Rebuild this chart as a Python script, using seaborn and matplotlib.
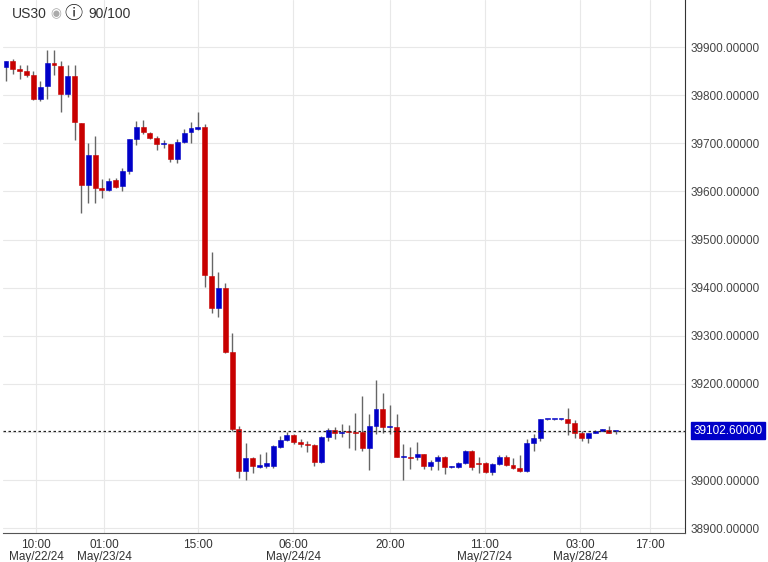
import matplotlib
matplotlib.use("Agg")
import matplotlib.pyplot as plt
import numpy as np
import pandas as pd
import seaborn as sns

# ── Data (hourly US30 candles) ───────────────────────────────────────────────
opens = [39859, 39872, 39854, 39850, 39843, 39793, 39819, 39866, 39861, 39802,
         39840, 39743, 39614, 39675, 39607, 39603, 39623, 39612, 39643, 39710,
         39734, 39722, 39711, 39698, 39698, 39667, 39703, 39723, 39730, 39733,
         39425, 39357, 39400, 39266, 39106, 39019, 39045, 39028, 39030, 39030,
         39069, 39084, 39093, 39079, 39076, 39072, 39038, 39090, 39105, 39098,
         39100, 39100, 39100, 39067, 39112, 39147, 39110, 39111, 39047, 39048,
         39047, 39055, 39029, 39040, 39047, 39027, 39028, 39036, 39060, 39035,
         39035, 39017, 39034, 39049, 39031, 39026, 39018, 39077, 39088, 39126,
         39126, 39126, 39126, 39118, 39097, 39088, 39097, 39103, 39104, 39102]
highs = [39872, 39875, 39863, 39863, 39850, 39829, 39894, 39894, 39872, 39863,
         39863, 39743, 39701, 39716, 39625, 39627, 39627, 39649, 39709, 39747,
         39749, 39724, 39716, 39708, 39698, 39710, 39729, 39744, 39766, 39740,
         39474, 39432, 39410, 39305, 39112, 39077, 39049, 39055, 39059, 39072,
         39091, 39100, 39096, 39086, 39081, 39075, 39092, 39108, 39110, 39116,
         39114, 39139, 39175, 39137, 39209, 39180, 39156, 39137, 39076, 39069,
         39079, 39055, 39042, 39053, 39050, 39030, 39037, 39062, 39063, 39049,
         39037, 39036, 39052, 39052, 39045, 39052, 39086, 39096, 39126, 39127,
         39127, 39127, 39149, 39124, 39103, 39097, 39104, 39107, 39113, 39103]
lows = [39830, 39845, 39833, 39837, 39790, 39788, 39793, 39842, 39765, 39797,
        39707, 39555, 39575, 39577, 39587, 39600, 39607, 39601, 39637, 39696,
        39720, 39709, 39687, 39690, 39662, 39660, 39700, 39700, 39727, 39402,
        39348, 39339, 39264, 39103, 39005, 39000, 39014, 39026, 39026, 39026,
        39066, 39082, 39074, 39069, 39058, 39030, 39035, 39081, 39086, 39090,
        39066, 39062, 39061, 39022, 39095, 39098, 39096, 39047, 39001, 39023,
        39042, 39024, 39022, 39020, 39013, 39026, 39026, 39034, 39022, 39015,
        39015, 39010, 39031, 39029, 39024, 39016, 39016, 39061, 39082, 39125,
        39125, 39125, 39093, 39087, 39082, 39077, 39097, 39101, 39097, 39095]
closes = [39872, 39854, 39851, 39843, 39793, 39817, 39866, 39862, 39802, 39840,
          39745, 39614, 39675, 39608, 39603, 39622, 39609, 39642, 39709, 39734,
          39723, 39712, 39698, 39699, 39667, 39703, 39722, 39731, 39733, 39426,
          39357, 39400, 39267, 39107, 39019, 39045, 39029, 39030, 39035, 39070,
          39084, 39093, 39079, 39076, 39072, 39038, 39090, 39105, 39098, 39100,
          39099, 39098, 39067, 39112, 39147, 39110, 39112, 39047, 39049, 39046,
          39055, 39029, 39038, 39048, 39027, 39028, 39035, 39060, 39027, 39033,
          39017, 39033, 39049, 39031, 39026, 39018, 39077, 39088, 39126, 39126,
          39126, 39126, 39118, 39097, 39088, 39097, 39103, 39104, 39098, 39102.6]

tick_pos = [4.4, 14.3, 28.0, 41.9, 56.1, 69.9, 83.8, 94.0]
tick_labels = ["10:00\nMay/22/24", "01:00\nMay/23/24", "15:00", "06:00\nMay/24/24",
               "20:00", "11:00\nMay/27/24", "03:00\nMay/28/24", "17:00"]
price_ticks = np.arange(38900, 40000, 100)
last_price = 39102.6

RED, BLUE, WICK = "#c80000", "#0000c8", "#666666"

df = pd.DataFrame({"open": opens, "high": highs, "low": lows, "close": closes})
df["up"] = df["close"] >= df["open"]

sns.set_style("white")
plt.rcParams["font.family"] = ["Liberation Sans", "DejaVu Sans"]

fig = plt.figure(figsize=(7.68, 5.62), dpi=100)
ax = fig.add_axes([3 / 768, 1 - 533 / 562, 682 / 768, 533 / 562])

# wicks
ax.vlines(df.index, df["low"], df["high"], color=WICK, linewidth=1, zorder=2)
# bodies (min height so doji still show)
bottoms = df[["open", "close"]].min(axis=1)
heights = (df["close"] - df["open"]).abs().clip(lower=2.5)
colors = [BLUE if u else RED for u in df["up"]]
ax.bar(df.index, heights, bottom=bottoms, width=0.72, color=colors,
       edgecolor=colors, linewidth=0.4, zorder=3)

ax.axhline(last_price, color="#222222", linestyle=(0, (2, 2)), linewidth=0.9, zorder=4)

ax.set_xlim(-0.44, 99.1)
ax.set_ylim(38890, 39998)
ax.set_xticks(tick_pos)
ax.set_xticklabels(tick_labels, fontsize=8.5, color="#333333", linespacing=1.0)
ax.yaxis.tick_right()
ax.set_yticks(price_ticks)
# the 39100 label sits under the current-price tag
ax.set_yticklabels(["" if p == 39100 else f"{p:.5f}" for p in price_ticks],
                   fontsize=8.5, color="#444444")
ax.tick_params(axis="both", length=0, pad=4)
ax.grid(True, color="#e8e8e8", linewidth=0.8)
for side in ["top", "left"]:
    ax.spines[side].set_visible(False)
ax.spines["right"].set_color("#333333")
ax.spines["bottom"].set_color("#555555")

# current price tag
ax.text(1.012, (last_price - 38890) / (39998 - 38890), f"{last_price:.5f}",
        transform=ax.transAxes, va="center", ha="left", fontsize=8.5, color="white",
        bbox=dict(boxstyle="square,pad=0.2", fc="#0000c8", ec="#0000c8"))

# header
fig.text(12 / 768, 1 - 14 / 562, "US30", fontsize=10, color="#333333", va="center")
fig.text(88 / 768, 1 - 14 / 562, "90/100", fontsize=10, color="#333333", va="center")
fig.text(50 / 768, 1 - 14 / 562, "\u25c9", fontsize=9, color="#aaaaaa", va="center")
fig.text(64 / 768, 1 - 14 / 562, "\u24d8", fontsize=13, color="#111111", va="center",
         family=["Noto Sans CJK JP", "DejaVu Sans"])

fig.savefig("out.png", dpi=100)
